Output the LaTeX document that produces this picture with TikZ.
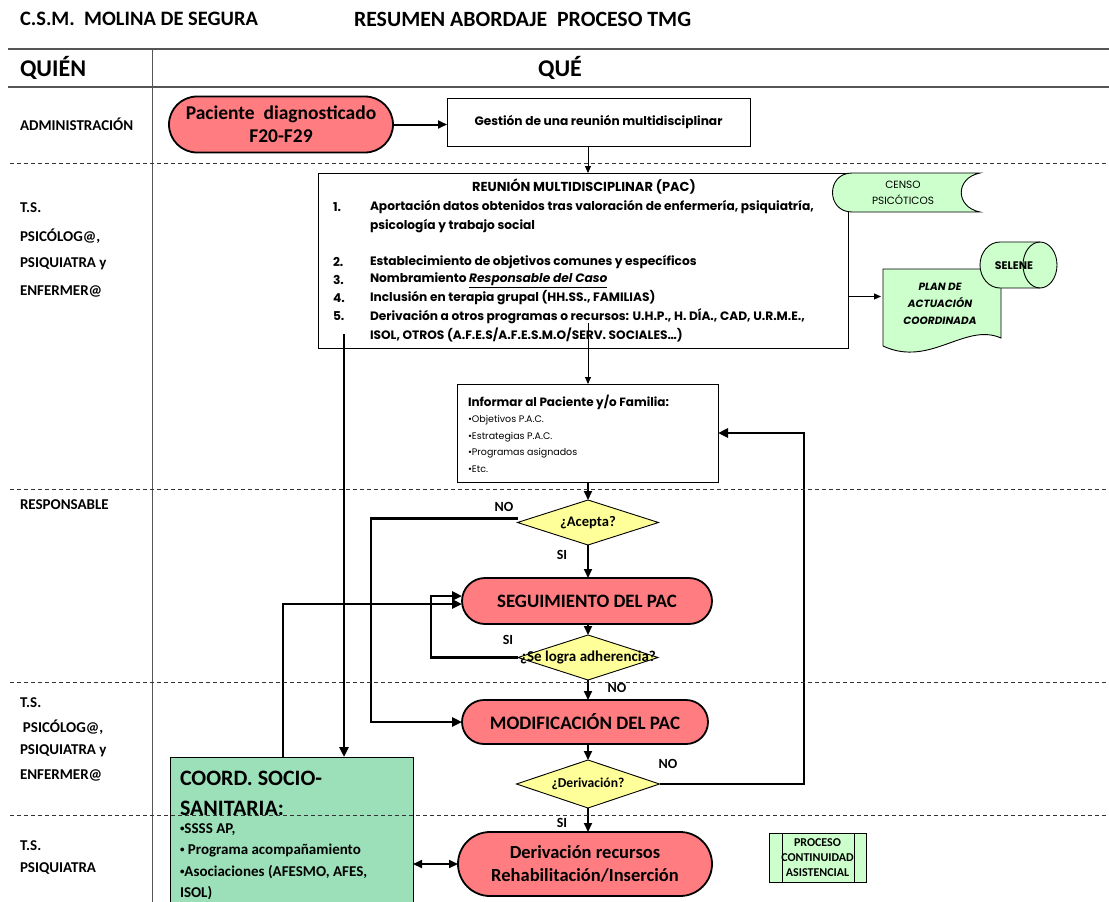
\documentclass[tikz,border=0pt]{standalone}
\usepackage{fontspec}
\setmainfont{Carlito}
\newfontfamily\goth{Poppins}
\usetikzlibrary{arrows.meta,shapes.geometric,shapes.misc}
\definecolor{salmon}{HTML}{FF7C80}
\definecolor{lgreen}{HTML}{CCFFCC}
\definecolor{mint}{HTML}{9CE0BA}
\definecolor{yel}{HTML}{FFFF99}
\definecolor{gridc}{HTML}{555555}
\newcommand\setfs[2]{\fontsize{#1}{#2}\selectfont}
\newcommand\smbul{\raisebox{0.3ex}{\scalebox{0.6}{•}}}
\tikzset{
  every node/.style={inner sep=0pt,outer sep=0pt},
  rowlbl/.style={anchor=west,font=\setfs{15}{17}\bfseries},
  titl/.style={anchor=west,font=\setfs{20.5}{24}\bfseries},
  head/.style={font=\setfs{24}{28}\bfseries},
  plainbox/.style={draw,line width=0.9pt,fill=white},
  stad/.style={rounded rectangle,draw,line width=1.8pt,fill=salmon,align=center},
  dec/.style={diamond,draw,line width=0.9pt,fill=yel},
  dectxt/.style={font=\setfs{14.6}{16}\bfseries},
  yn/.style={font=\setfs{14}{16}\bfseries},
  gtxt/.style={anchor=west,font=\goth\bfseries\setfs{12.2}{14}},
  cotxt/.style={anchor=west,font=\setfs{15}{17}\bfseries},
  thin/.style={line width=0.9pt,-{Triangle[length=7pt,width=6pt]}},
  mid/.style={line width=2pt,-{Triangle[length=9pt,width=8pt]}},
  thick/.style={line width=2.6pt,-{Triangle[length=10pt,width=9pt]}},
  lane/.style={dash pattern=on 4pt off 3pt,line width=0.9pt,draw=black!80},
}
\begin{document}
\begin{tikzpicture}[x=1pt,y=-1pt]
\useasboundingbox[fill=white] (0,0) rectangle (1109,902);

% titles and grid
\node[titl] (t1) at (20,19) {C.S.M.\ \ MOLINA DE SEGURA};
\node[titl,font=\setfs{21.8}{24}\bfseries] (t2) at (354,19) {RESUMEN ABORDAJE\ \ PROCESO TMG};
\draw[line width=1.3pt,gridc] (8,49) -- (1109,49);
\draw[line width=1.3pt,gridc] (8,87) -- (1109,87);
\draw[line width=1pt,gridc] (152,49) -- (152,902);
\node[head,anchor=west] (quien) at (20,68) {QUIÉN};
\node[head] (que) at (560,68) {QUÉ};

% row labels
\node[rowlbl] (r1) at (20,124) {ADMINISTRACIÓN};
\node[rowlbl] (r2a) at (20,208) {T.S.};
\node[rowlbl] (r2b) at (20,236) {PSICÓLOG@,};
\node[rowlbl] (r2c) at (20,264) {PSIQUIATRA y};
\node[rowlbl] (r2d) at (20,291) {ENFERMER@};
\node[rowlbl] (r3) at (20,505) {RESPONSABLE};
\node[rowlbl] (r4a) at (20,703) {T.S.};
\node[rowlbl] (r4b) at (23,727) {PSICÓLOG@,};
\node[rowlbl] (r4c) at (20,751) {PSIQUIATRA y};
\node[rowlbl] (r4d) at (20,775) {ENFERMER@};
\node[rowlbl] (r5a) at (20,846) {T.S.};
\node[rowlbl] (r5b) at (20,869) {PSIQUIATRA};

% top row
\node[stad,minimum width=224,minimum height=56,font=\setfs{19.5}{23}\bfseries] (paci) at (281,124.5) {Paciente\ \ diagnosticado\\F20-F29};
\node[plainbox,minimum width=303,minimum height=48,font=\goth\bfseries\setfs{12.2}{14}] (gest) at (598.5,122) {Gestión de una reunión multidisciplinar};

% PAC box
\node[plainbox,minimum width=530,minimum height=175] (pac) at (583,260.5) {};
\node[font=\goth\bfseries\setfs{13}{15}] (pactit) at (584,187) {REUNIÓN MULTIDISCIPLINAR (PAC)};
\node[gtxt] (n1) at (333,207) {1.};
\node[gtxt] (i1a) at (370,207) {Aportación datos obtenidos tras valoración de enfermería, psiquiatría,};
\node[gtxt] (i1b) at (370,226) {psicología y trabajo social};
\node[gtxt] (n2) at (333,262) {2.};
\node[gtxt] (i2) at (370,262) {Establecimiento de objetivos comunes y específicos};
\node[gtxt] (n3) at (333,280) {3.};
\node[gtxt] (i3) at (370,280) {Nombramiento \underline{\itshape Responsable del Caso}};
\node[gtxt] (n4) at (333,298) {4.};
\node[gtxt] (i4) at (370,298) {Inclusión en terapia grupal (HH.SS., FAMILIAS)};
\node[gtxt] (n5) at (333,316) {5.};
\node[gtxt] (i5a) at (370,316) {Derivación a otros programas o recursos: U.H.P., H. DÍA., CAD, U.R.M.E.,};
\node[gtxt] (i5b) at (370,335) {ISOL, OTROS (A.F.E.S/A.F.E.S.M.O/SERV. SOCIALES…)};

% censo psicoticos (stored data)
\draw[fill=lgreen,line width=0.9pt] (852,173) -- (980,173) .. controls (955,178) and (955,207) .. (980,212) -- (852,212) .. controls (826,212) and (826,173) .. (852,173) -- cycle;
\node[font=\goth\setfs{10.5}{16}\selectfont,align=center] (censo) at (903,193) {CENSO\\PSICÓTICOS};

% plan de actuacion (document)
\draw[fill=lgreen,line width=0.9pt] (883,269) -- (1001,269) -- (1001,338) .. controls (965,322) and (930,368) .. (883,346) -- cycle;
\node[font=\goth\bfseries\itshape\setfs{10.5}{17},align=center,minimum width=118,minimum height=60] (plan) at (940,304) {PLAN DE\\ACTUACIÓN\\COORDINADA};

% selene (disk)
\draw[fill=lgreen,line width=0.9pt] (1000,242) -- (1040,242) arc[start angle=90,end angle=-90,x radius=17pt,y radius=23pt] -- (1000,288) arc[start angle=270,end angle=90,x radius=20pt,y radius=23pt] -- cycle;
\draw[line width=0.9pt] (1040,242) arc[start angle=90,end angle=270,x radius=17pt,y radius=23pt];
\node[font=\goth\bfseries\setfs{11}{13}] (selene) at (1014,266) {SELENE};

% informar
\node[plainbox,minimum width=261,minimum height=98] (inf) at (587.5,433) {};
\node[gtxt,font=\goth\bfseries\setfs{12}{14}] (inft) at (468,402) {Informar al Paciente y/o Familia:};
\node[anchor=west,align=left,font=\goth\setfs{9.5}{16.4}] (infb) at (468,444) {•Objetivos P.A.C.\\•Estrategias P.A.C.\\•Programas asignados\\•Etc.};

% decisions
\node[dec,minimum width=141,minimum height=45] (acep) at (588,522.5) {};
\node[dectxt] (acept) at (588,523) {¿Acepta?};
\node[dec,minimum width=140,minimum height=45] (adh) at (588,657.5) {};
\node[dectxt,font=\setfs{15}{16}\bfseries] (adht) at (588,658) {¿Se logra adherencia?};
\node[dec,minimum width=143,minimum height=48] (der) at (588,784) {};
\node[dectxt,font=\setfs{13.6}{15}\bfseries] (dert) at (588,784) {¿Derivación?};

% terminals
\node[stad,minimum width=250,minimum height=46,font=\setfs{18.9}{21}\bfseries] (seg) at (587,601) {SEGUIMIENTO DEL PAC};
\node[stad,minimum width=246,minimum height=44,font=\setfs{19}{21}\bfseries] (mod) at (585,722) {MODIFICACIÓN DEL PAC};
\node[stad,minimum width=254,minimum height=64,font=\setfs{18.5}{23}\bfseries] (drec) at (585,864) {Derivación recursos\\Rehabilitación/Inserción};

% coord socio-sanitaria
\node[draw,line width=0.9pt,fill=mint,minimum width=243,minimum height=150,anchor=north west] (coord) at (170,757) {};
\node[anchor=west,font=\setfs{22}{24}\bfseries] (c1) at (180,778) {COORD. SOCIO-};
\node[anchor=west,font=\setfs{22}{24}\bfseries] (c2) at (180,808) {SANITARIA:};
\node[cotxt] (c3) at (180,830) {\smbul SSSS AP,};
\node[cotxt] (c4) at (180,851) {\smbul\ Programa acompañamiento};
\node[cotxt] (c5) at (180,872) {\smbul Asociaciones (AFESMO, AFES,};
\node[cotxt] (c6) at (180,893) {ISOL)};

% proceso continuidad
\node[draw,line width=0.8pt,fill=lgreen,minimum width=97,minimum height=49] (proc) at (817.5,857.5) {};
\draw[line width=0.8pt] ([xshift=13pt]proc.north west) -- ([xshift=13pt]proc.south west);
\draw[line width=0.8pt] ([xshift=-12pt]proc.north east) -- ([xshift=-12pt]proc.south east);
\node[font=\setfs{12}{15}\bfseries,align=center] (proct) at (817.5,858) {PROCESO\\CONTINUIDAD\\ASISTENCIAL};

% helper coordinates
\coordinate (xno) at (371,0);
\coordinate (xsi) at (431,0);
\coordinate (xco) at (283,0);
\coordinate (xpa) at (344,0);
\coordinate (xret) at (804,0);
\coordinate (pacin) at ([yshift=25pt]pac.south);
\coordinate (pacco) at ([yshift=14pt]pac.south);
\coordinate (pacpl) at ([yshift=-36pt]pac.east);
\coordinate (acno) at ([yshift=4pt]acep.west);

% connectors
\draw[mid] (paci.east) -- (paci.east -| gest.west);
\draw[thin] (gest.south -| acep.north) -- (pac.north -| acep.north);
\draw[thin] (pacin -| acep.north) -- (inf.north -| acep.north);
\draw[thin] (pacpl) -- (pacpl -| plan.west);
\draw[mid] (inf.south -| acep.north) -- (acep.north);
\draw[thick] (acno) -- (acno -| xno) |- (mod.west);
\draw[mid] (acep.south) -- (acep.south |- seg.north);
\draw[mid] (seg.south -| adh.north) -- (adh.north);
\draw[thick] (adh.west) -- (adh.west -| xsi) |- ([yshift=5pt]seg.west);
\draw[thick] (coord.north -| xco) |- ([yshift=-3pt]seg.west);
\draw[thick] (pacco -| xpa) -- (coord.north -| xpa);
\draw[mid] (adh.south) -- (adh.south |- mod.north);
\draw[mid] (mod.south -| der.north) -- (der.north);
\draw[thick] (der.east) -- (der.east -| xret) |- (inf.east);
\draw[mid] (der.south) -- (der.south |- drec.north);
\draw[mid,{Triangle[length=9pt,width=8pt]}-{Triangle[length=9pt,width=8pt]}] (coord.east |- drec.west) -- (drec.west);

% yes/no labels
\node[yn] (no1) at (504,507) {NO};
\node[yn] (si1) at (562,555) {SI};
\node[yn] (si2) at (508,640) {SI};
\node[yn] (no2) at (617,688) {NO};
\node[yn] (no3) at (668,764) {NO};
\node[yn] (si3) at (562,823) {SI};

% lane separators
\draw[lane] (10,163) -- (1109,163);
\draw[lane] (10,489) -- (1109,489);
\draw[lane] (10,682) -- (1109,682);
\draw[lane] (10,815) -- (1109,815);
\end{tikzpicture}
\end{document}
